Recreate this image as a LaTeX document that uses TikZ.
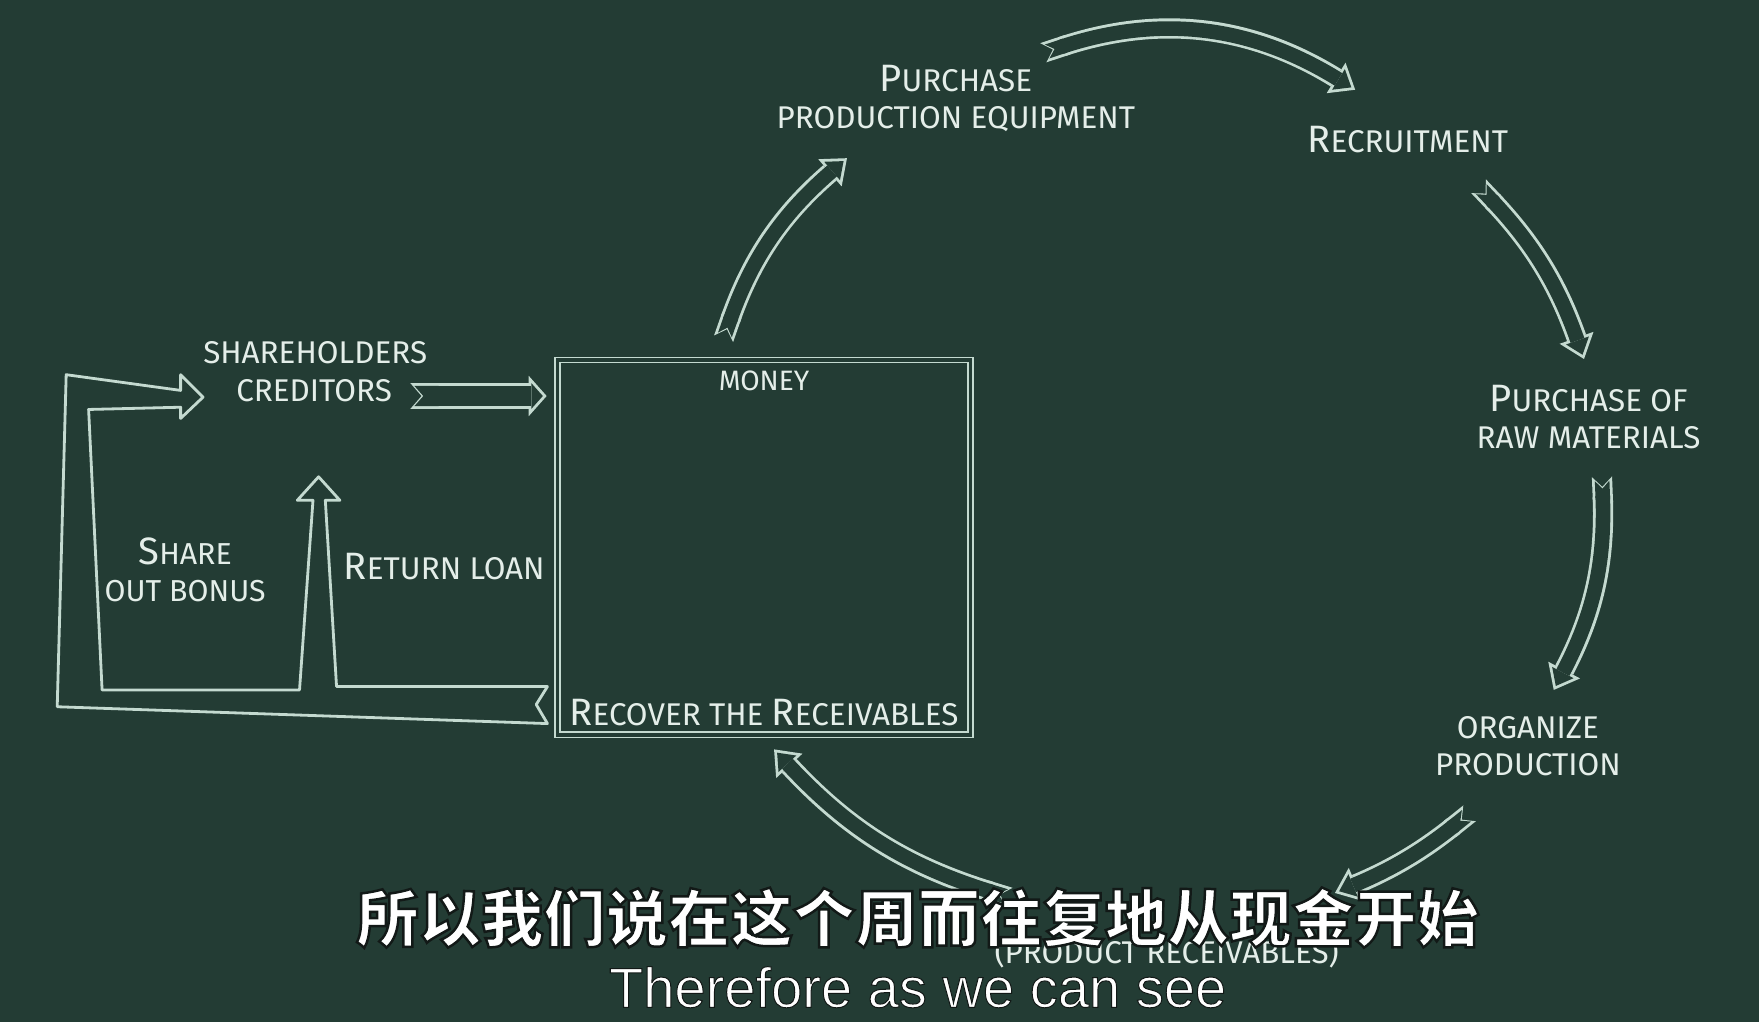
\documentclass[tikz,border=0pt]{standalone}
\usepackage{fontspec}
\setmainfont{Fira Sans}
\newfontfamily\cjkfont{Noto Sans CJK SC}
\newfontfamily\subfont{Liberation Sans}
\usetikzlibrary{arrows.meta,positioning,calc}
\definecolor{board}{RGB}{35,60,52}
\definecolor{chalk}{RGB}{196,218,208}
\definecolor{chalktxt}{RGB}{228,238,233}
\tikzset{
  lbl/.style={font=\fontsize{14}{16.5}\selectfont,text=chalktxt,align=center,inner sep=1pt},
  chalkln/.style={draw=chalk,line width=1.25pt,line join=round},
  boxd/.style={draw=chalk,double=board,double distance=1.6pt,line width=0.7pt,inner sep=0pt},
  fat/.style={draw=chalk,line width=11.5pt,
    {Triangle Cap[reversed,length=5pt]}-{Triangle[length=8pt,width=18pt,line width=0pt]},
    postaction={draw=board,line width=9pt,shorten <=1.8pt,shorten >=1.7pt,
      {Triangle Cap[reversed,length=4pt]}-{Triangle[length=5.1pt,width=11.4pt,line width=0pt]}}},
  fatc/.style={draw=chalk,line width=9pt,
    {Triangle Cap[reversed,length=4.5pt]}-{Triangle[length=10pt,width=16pt,line width=0pt]},
    postaction={draw=board,line width=6.5pt,shorten <=1.8pt,shorten >=2pt,
      {Triangle Cap[reversed,length=3.5pt]}-{Triangle[length=6.75pt,width=10.8pt,line width=0pt]}}},
  sub/.style={text=white,inner sep=0pt},
}
\newcommand{\capfirst}[1]{{\fontsize{17}{17}\selectfont #1}}
% outlined subtitle text (fill + dark stroke)
\newcommand{\subshade}[2][1.1]{\leavevmode
  \special{pdf:literal direct 2 Tr #1 w 0.07 0.1 0.09 RG}#2\special{pdf:literal direct 0 Tr}}

\begin{document}
\begin{tikzpicture}[x=0.5pt,y=-0.5pt]
  \useasboundingbox (0,0) rectangle (1568,911);
  \fill[board] (0,0) rectangle (1568,911);

  % money box
  \node[boxd,minimum width=184pt,minimum height=167pt] (box) at (681,488) {};
  \node[lbl,font=\fontsize{12.5}{15}\selectfont,below=4pt of box.north] (money) {MONEY};
  \node[lbl,above=3pt of box.south] (recov) {\capfirst{R}ECOVER THE \capfirst{R}ECEIVABLES};

  % left side
  \node[lbl] (shr) at (281,314) {SHAREHOLDERS};
  \node[lbl] (cred) at (280,348) {CREDITORS};
  \node[lbl,font=\fontsize{13.5}{16.5}\selectfont] (bonus) at (165,508) {\capfirst{S}HARE\\OUT BONUS};
  \node[lbl] (loan) at (396,505) {\capfirst{R}ETURN LOAN};
  \draw[fat] ($(cred.east)+(14,5)$) -- ($(box.west |- cred.east)+(-9,5)$);
  \draw[chalkln] (488,645) -- (51,630) -- (59,334) -- (161,348) -- (161,334)
    -- (181,354) -- (161,373) -- (161,363) -- (79,365) -- (91,615) -- (267,615)
    -- (279,446) -- (265,446) -- (284,425) -- (303,446) -- (290,446) -- (300,612)
    -- (488,612) -- (478,628) -- cycle;

  % cycle
  \node[lbl] (equip) at (852,88) {\capfirst{P}URCHASE\\PRODUCTION EQUIPMENT};
  \node[lbl] (recruit) at (1255,124) {\capfirst{R}ECRUITMENT};
  \node[lbl] (rawmat) at (1416,372) {\capfirst{P}URCHASE OF\\RAW MATERIALS};
  \node[lbl] (organize) at (1362,665) {ORGANIZE\\PRODUCTION};
  \node[lbl] (prodrec) at (1040,849) {(PRODUCT RECEIVABLES)};
  \coordinate (a1) at (645,302);
  \coordinate (b1) at (755,141);
  \coordinate (a2) at (930,47);
  \coordinate (b2) at (1208,80);
  \coordinate (a3) at (1318,166);
  \coordinate (b3) at (1412,320);
  \coordinate (a4) at (1428,425);
  \coordinate (b4) at (1385,615);
  \coordinate (a5) at (1310,725);
  \coordinate (b5) at (1190,796);
  \coordinate (a6) at (900,800);
  \coordinate (b6) at (690,668);
  \draw[fatc] (a1) to[bend left=15] (b1);
  \draw[fatc] (a2) to[bend left=25] (b2);
  \draw[fatc] (a3) to[bend left=12] (b3);
  \draw[fatc] (a4) to[bend left=15] (b4);
  \draw[fatc] (a5) to[bend left=8] (b5);
  \draw[fatc] (a6) to[bend left=15] (b6);

  % subtitles
  \node[sub,font=\cjkfont\bfseries\fontsize{27.8}{30}\selectfont] (subzh) at (818,818)
    {\subshade{所以我们说在这个周而往复地从现金开始}};
  \node[sub,font=\subfont\fontsize{25}{28}\selectfont] (suben) at (818,880)
    {\subshade[0.45]{Therefore as we can see}};
\end{tikzpicture}
\end{document}
